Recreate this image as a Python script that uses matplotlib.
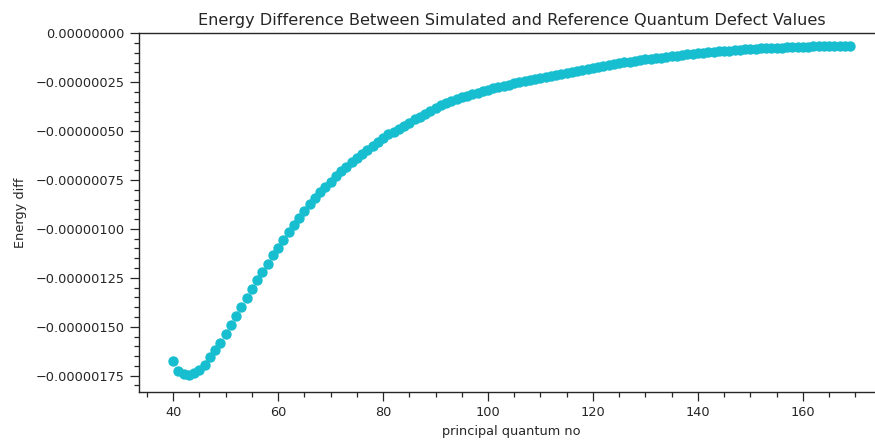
import numpy as np
import matplotlib
matplotlib.use("Agg")
import matplotlib.pyplot as plt
from matplotlib.ticker import AutoMinorLocator, ScalarFormatter, MultipleLocator

# principal quantum number n = 40 .. 169
n_values = np.arange(40, 170)

# energy difference, in units of 1e-6
energy_diff_e6 = [
    -1.675, -1.725, -1.742, -1.748, -1.738, -1.722, -1.697, -1.655, -1.620, -1.582,  # 40-49
    -1.535, -1.492, -1.446, -1.399, -1.352, -1.309, -1.263, -1.220, -1.177, -1.135,  # 50-59
    -1.095, -1.056, -1.018, -0.980, -0.945, -0.910, -0.875, -0.842, -0.813, -0.786,  # 60-69
    -0.758, -0.731, -0.705, -0.682, -0.660, -0.638, -0.617, -0.597, -0.575, -0.554,  # 70-79
    -0.533, -0.517, -0.502, -0.488, -0.472, -0.456, -0.440, -0.426, -0.412, -0.398,  # 80-89
    -0.382, -0.369, -0.356, -0.345, -0.335, -0.326, -0.318, -0.310, -0.303, -0.296,  # 90-99
    -0.289, -0.282, -0.276, -0.269, -0.262, -0.256, -0.250, -0.243, -0.237, -0.232,  # 100-109
    -0.227, -0.222, -0.217, -0.212, -0.207, -0.202, -0.197, -0.192, -0.187, -0.182,  # 110-119
    -0.177, -0.172, -0.167, -0.162, -0.157, -0.153, -0.149, -0.145, -0.141, -0.137,  # 120-129
    -0.133, -0.130, -0.127, -0.124, -0.121, -0.118, -0.114, -0.111, -0.107, -0.104,  # 130-139
    -0.101, -0.099, -0.097, -0.095, -0.093, -0.091, -0.088, -0.086, -0.084, -0.082,  # 140-149
    -0.080, -0.079, -0.077, -0.076, -0.075, -0.074, -0.073, -0.072, -0.071, -0.070,  # 150-159
    -0.069, -0.068, -0.067, -0.066, -0.066, -0.065, -0.065, -0.064, -0.064, -0.063,  # 160-169
]
energy_diff = np.array(energy_diff_e6) * 1e-6

text_col = "#262626"
plt.rcParams["font.family"] = "DejaVu Sans"

fig = plt.figure(figsize=(8.75, 4.41), dpi=100)
ax = fig.add_axes([0.1592, 0.1118, 0.851, 0.8127])

ax.scatter(n_values, energy_diff, s=42, color="#17becf", zorder=3)

ax.set_xlim(33.55, 175.45)
ax.set_ylim(-1.832e-6, 0)

ax.yaxis.set_major_locator(MultipleLocator(0.25e-6))
fmt = ScalarFormatter(useOffset=False)
fmt.set_scientific(False)
ax.yaxis.set_major_formatter(fmt)
ax.xaxis.set_minor_locator(AutoMinorLocator())
ax.yaxis.set_minor_locator(AutoMinorLocator())

ax.tick_params(which="both", direction="out", colors=text_col, labelsize=9.3, width=0.9)
ax.tick_params(which="major", length=6.5, pad=4)
ax.tick_params(which="minor", length=3.6)

for side in ["left", "bottom", "top"]:
    ax.spines[side].set_color(text_col)
    ax.spines[side].set_linewidth(1.0)
ax.spines["right"].set_visible(False)

ax.set_title("Energy Difference Between Simulated and Reference Quantum Defect Values",
             fontsize=11.6, color=text_col, pad=6)
ax.set_xlabel("principal quantum no", fontsize=9.3, color=text_col)
ax.set_ylabel("Energy diff", fontsize=9.3, color=text_col, labelpad=6)

fig.savefig("out.png", dpi=100)
